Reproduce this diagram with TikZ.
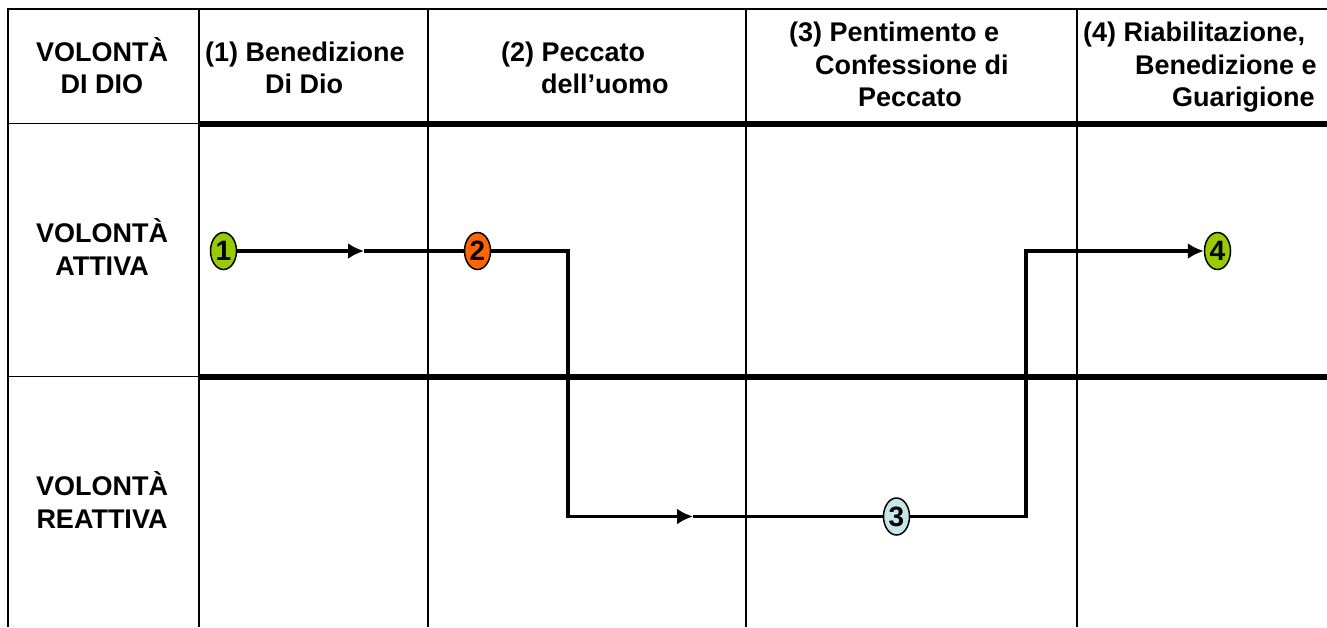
\documentclass[tikz,border=0pt]{standalone}
\usepackage{fontspec}
\setmainfont{Liberation Sans}
\usetikzlibrary{shapes.geometric,arrows.meta}
\definecolor{gr}{RGB}{153,204,0}
\definecolor{og}{RGB}{255,102,0}
\definecolor{lb}{RGB}{198,230,234}
\begin{document}
\begin{tikzpicture}[x=1pt,y=-1pt,
  thin line/.style={line width=1.5pt,black},
  thick line/.style={line width=6pt,black},
  lbl/.style={font=\fontsize{27}{32}\selectfont\bfseries,inner sep=0pt,anchor=base west},
  clbl/.style={font=\fontsize{27}{32}\selectfont\bfseries,inner sep=0pt,anchor=base},
  dot/.style={ellipse,draw=black,line width=1.5pt,minimum width=26pt,minimum height=37pt,inner sep=0pt,font=\fontsize{28}{30}\selectfont\bfseries},
  conn/.style={line width=3.3pt,black},
  tip/.style={-{Latex[length=16pt,width=16pt]}}]
\useasboundingbox (0,0) rectangle (1327,627);
% grid
\draw[thin line] (8,627) -- (8,9) -- (1327,9);
\draw[line width=2pt] (199,9) -- (199,627);
\draw[thin line] (428,9) -- (428,627);
\draw[thin line] (746,9) -- (746,627);
\draw[thin line] (1077,9) -- (1077,627);
\draw[thin line] (8,123.5) -- (199,123.5);
\draw[thin line] (8,376.5) -- (199,376.5);
\draw[thick line] (199,123.7) -- (1327,123.7);
\draw[thick line] (199,377) -- (1327,377);
% left column labels
\node[clbl] (h0a) at (102,61) {VOLONTÀ};
\node[clbl] (h0b) at (102,93) {DI DIO};
\node[clbl] (r1a) at (102,242) {VOLONTÀ};
\node[clbl] (r1b) at (102,275) {ATTIVA};
\node[clbl] (r2a) at (102,495) {VOLONTÀ};
\node[clbl] (r2b) at (102,528) {REATTIVA};
% headers
\node[lbl] (h1a) at (205,61) {(1) Benedizione};
\node[lbl] (h1b) at (265,93) {Di Dio};
\node[lbl] (h2a) at (501,61) {(2) Peccato};
\node[lbl] (h2b) at (541,93) {dell’uomo};
\node[lbl] (h3a) at (789,41) {(3) Pentimento e};
\node[lbl] (h3b) at (815,74) {Confessione di};
\node[lbl] (h3c) at (858,106) {Peccato};
\node[lbl] (h4a) at (1083,41) {(4) Riabilitazione,};
\node[lbl] (h4b) at (1135,74) {Benedizione e};
\node[lbl] (h4c) at (1172,106) {Guarigione};
% nodes
\node[dot,fill=gr] (n1) at (223.5,251) {1};
\node[dot,fill=og] (n2) at (477.5,251) {2};
\node[dot,fill=lb] (n3) at (896.5,516.5) {3};
\node[dot,fill=gr] (n4) at (1217.5,251) {4};
% connector coordinates
\coordinate (a1) at (364,251);
\coordinate (c1) at (568,251);
\coordinate (c2) at (568,516.5);
\coordinate (a2) at (693,516.5);
\coordinate (c3) at (1026,516.5);
\coordinate (c4) at (1026,251);
% connectors
\draw[conn,tip] (n1.east) -- (a1);
\draw[conn] (a1) -- (n2.west);
\draw[conn,tip] (n2.east) -- (c1) -- (c2) -- (a2);
\draw[conn] (a2) -- (n3.west);
\draw[conn,tip] (n3.east) -- (c3) -- (c4) -- (n4.west);
\end{tikzpicture}
\end{document}
